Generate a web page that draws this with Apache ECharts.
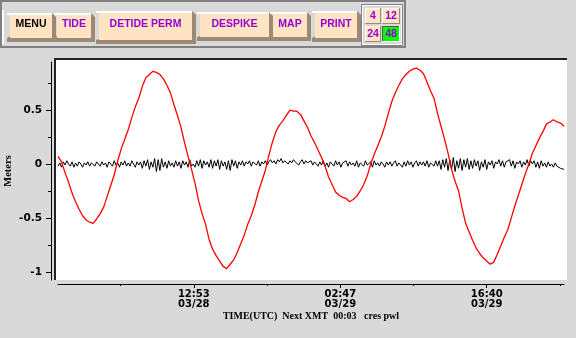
<!DOCTYPE html>
<html><head><meta charset="utf-8">
<script src="https://cdn.jsdelivr.net/npm/echarts@6/dist/echarts.min.js"></script>
<style>html,body{margin:0;padding:0;background:#d9d9d9;}#c{width:576px;height:338px;}</style>
</head><body><div id="c"></div>
<script>
// ---- data (minutes since 03/28 00:00 UTC) ----
const xStartMinute = 0;
const xEndMinute = 2880;
const redStepMinutes = 20;
const blackStepMinutes = 10;
// tide (red) in meters, every 20 minutes
const tideValues = [0.07,0.02,-0.08,-0.17,-0.27,-0.35,-0.42,-0.48,-0.52,-0.54,
 -0.55,-0.51,-0.46,-0.40,-0.30,-0.20,-0.10,0.03,0.14,0.23,
 0.32,0.43,0.53,0.61,0.72,0.80,0.83,0.86,0.85,0.83,
 0.79,0.73,0.66,0.55,0.45,0.34,0.20,0.07,-0.05,-0.18,
 -0.34,-0.46,-0.56,-0.70,-0.79,-0.85,-0.90,-0.95,-0.97,-0.93,
 -0.89,-0.82,-0.74,-0.66,-0.56,-0.48,-0.38,-0.26,-0.16,-0.06,
 0.08,0.20,0.30,0.36,0.40,0.45,0.50,0.49,0.49,0.46,
 0.40,0.34,0.26,0.20,0.13,0.06,-0.02,-0.12,-0.19,-0.26,
 -0.29,-0.31,-0.32,-0.35,-0.33,-0.30,-0.25,-0.19,-0.11,0.00,
 0.09,0.17,0.25,0.35,0.47,0.58,0.66,0.73,0.79,0.83,
 0.86,0.88,0.89,0.87,0.84,0.76,0.68,0.61,0.47,0.35,
 0.23,0.10,-0.05,-0.16,-0.25,-0.41,-0.55,-0.63,-0.71,-0.78,
 -0.83,-0.87,-0.90,-0.93,-0.91,-0.84,-0.76,-0.68,-0.61,-0.50,
 -0.39,-0.29,-0.19,-0.09,0.00,0.10,0.17,0.24,0.30,0.37,
 0.39,0.41,0.39,0.38,0.35];
// detided residual (black) in meters, every 10 minutes
const residualValues = [
 -0.02,0.01,-0.03,0.02,-0.01,0.03,0.00,-0.02,0.02,-0.03,0.01,-0.02,0.02,0.00,-0.03,0.01,-0.01,0.02,-0.02,0.01,0.00,-0.02,0.02,0.01,
 -0.02,0.02,-0.01,0.01,-0.03,0.02,0.00,-0.02,0.03,-0.01,0.01,-0.03,0.02,-0.01,0.03,-0.02,0.01,-0.02,0.03,0.00,-0.03,0.02,-0.01,0.02,
 -0.04,0.03,-0.02,0.04,-0.05,0.02,-0.03,0.05,-0.07,0.04,-0.06,0.05,-0.03,0.02,-0.04,0.03,-0.02,0.01,-0.03,0.03,-0.02,0.02,-0.04,0.03,
 -0.01,0.02,-0.03,0.04,-0.02,0.00,-0.03,0.03,-0.02,0.04,-0.04,0.03,-0.01,0.02,-0.03,0.04,-0.04,0.03,-0.02,0.04,-0.05,0.03,-0.02,0.02,
 -0.05,0.03,-0.06,0.04,-0.02,0.03,-0.04,0.02,-0.01,0.03,-0.02,0.02,0.00,0.03,-0.02,0.02,0.01,-0.01,0.03,-0.02,0.02,0.00,0.03,-0.01,
 0.02,0.04,0.01,0.03,0.00,0.04,0.02,0.05,0.01,0.03,0.04,0.00,0.03,0.01,0.04,0.02,0.03,-0.01,0.02,0.04,0.00,0.03,0.01,0.02,
 0.03,-0.01,0.02,0.00,-0.02,0.02,-0.01,0.03,-0.02,0.01,-0.03,0.02,0.00,-0.02,0.03,-0.01,0.02,-0.03,0.01,0.00,0.03,-0.02,0.02,-0.01,
 0.01,-0.02,0.03,-0.03,0.01,0.02,-0.02,0.03,-0.01,0.00,0.02,-0.03,0.03,-0.01,0.01,-0.02,0.02,0.00,-0.03,0.02,-0.01,0.02,-0.02,0.01,
 0.03,-0.02,0.01,0.00,-0.03,0.02,-0.02,0.03,-0.01,0.02,-0.03,0.01,0.03,-0.02,0.02,-0.01,0.02,-0.02,0.03,-0.03,0.01,0.00,-0.02,0.03,
 -0.02,0.03,-0.05,0.04,-0.03,0.05,-0.06,0.04,-0.05,0.06,-0.07,0.03,-0.04,0.05,-0.06,0.04,-0.03,0.05,-0.05,0.03,-0.04,0.04,-0.02,0.03,
 -0.06,0.02,-0.03,0.04,-0.05,0.02,-0.01,0.03,-0.04,0.02,0.00,0.04,-0.02,0.03,-0.03,0.02,0.01,0.04,-0.02,0.03,-0.04,0.02,0.00,0.03,
 -0.03,0.02,-0.01,0.04,-0.02,0.03,0.00,0.03,-0.03,0.02,-0.04,0.03,-0.02,0.01,-0.03,0.02,-0.02,0.00,-0.03,0.01,-0.02,-0.01,-0.04,-0.03,
 -0.05];
// axis ticks / labels
const majorTickMinutes = [773, 1607, 2440];
const majorTickLabels = ['12:53\n03/28', '02:47\n03/29', '16:40\n03/29'];
const minorTickMinutes = [357, 773, 1190, 1607, 2023, 2440, 2857];
const yMin = -1.076, yMax = 0.946;
const yLabelValues = [-1, -0.5, 0, 0.5];
const yMinorTickValues = [-0.75, -0.25, 0.25, 0.75];
const xAxisTitle = 'TIME(UTC)  Next XMT  00:03   cres pwl';
const yAxisTitle = 'Meters';
const toolbarButtons = [
  {label:'MENU', box:[10,15,52,38], color:'#000000'},
  {label:'TIDE', box:[57,15,91,38], color:'#9400d3'},
  {label:'DETIDE PERM', box:[99,13,192,40], color:'#9400d3'},
  {label:'DESPIKE', box:[200,14,269,37], color:'#9400d3'},
  {label:'MAP', box:[273,14,307,37], color:'#9400d3'},
  {label:'PRINT', box:[315,13,357,38], color:'#9400d3'}
];
const spanButtons = [
  {label:'4', box:[366,9,380,23], active:false},
  {label:'12', box:[383,9,399,23], active:false},
  {label:'24', box:[366,27,380,41], active:false},
  {label:'48', box:[383,27,399,41], active:true}
];

const tideData = tideValues.map((v,i)=>[xStartMinute + i*redStepMinutes, v]);
const residualData = residualValues.map((v,i)=>[xStartMinute + i*blackStepMinutes, v]);

const FACE = '#ffe4c4', SHADOW = '#9c8a77';
const graphics = [];
// toolbar
graphics.push({type:'rect', shape:{x:1,y:1,width:404,height:46}, style:{fill:'#d9d9d9', stroke:'#808080', lineWidth:2}});
graphics.push({type:'rect', shape:{x:2,y:10,width:2,height:34}, style:{fill:'#ffffff'}});
toolbarButtons.forEach(b=>{
  const [x0,y0,x1,y1] = b.box;
  graphics.push({type:'polygon', shape:{points:[[x1,y0-2],[x1+4,y0+2],[x1+4,y1+4],[x0-3,y1+4],[x0-3,y1]]}, style:{fill:SHADOW}});
  graphics.push({type:'rect', shape:{x:x0-3,y:y0-2,width:x1-x0+3,height:2}, style:{fill:'#ffffff'}});
  graphics.push({type:'rect', shape:{x:x0,y:y0,width:x1-x0,height:y1-y0}, style:{fill:FACE}});
  graphics.push({type:'text', x:(x0+x1)/2, y:24.5, style:{text:b.label, fill:b.color, font:'bold 10.5px "Liberation Sans", Arial, sans-serif', textAlign:'center', textVerticalAlign:'middle'}});
});
graphics.push({type:'rect', shape:{x:361.5,y:4.5,width:41,height:41}, style:{fill:'none', stroke:'#808080', lineWidth:1}});
graphics.push({type:'rect', shape:{x:362.5,y:5.5,width:39,height:39}, style:{fill:'none', stroke:'#ffffff', lineWidth:1}});
spanButtons.forEach(b=>{
  const [x0,y0,x1,y1] = b.box;
  graphics.push({type:'rect', shape:{x:x0-1,y:y0-1,width:x1-x0+2,height:y1-y0+2}, style:{fill: b.active ? '#ffffff' : SHADOW}});
  graphics.push({type:'rect', shape:{x:x0-1,y:y0-1,width:x1-x0+1,height:y1-y0+1}, style:{fill: b.active ? '#555555' : '#ffffff'}});
  graphics.push({type:'rect', shape:{x:x0,y:y0,width:x1-x0,height:y1-y0}, style:{fill: b.active ? '#00ff00' : FACE}});
  graphics.push({type:'text', x:(x0+x1)/2, y:(y0+y1)/2+0.5, style:{text:b.label, fill:'#9400d3', font:'bold 10.5px "Liberation Sans", Arial, sans-serif', textAlign:'center', textVerticalAlign:'middle'}});
});
// plot frame
graphics.push({type:'rect', z:-5, shape:{x:54,y:58,width:513,height:222}, style:{fill:'#ffffff'}});
graphics.push({type:'rect', z:-4, shape:{x:54,y:58,width:513,height:2}, style:{fill:'#222222'}});
graphics.push({type:'rect', z:-4, shape:{x:54,y:58,width:2,height:222}, style:{fill:'#222222'}});

const tickFont = {fontFamily:'"DejaVu Sans", sans-serif', fontWeight:'bold', color:'#000'};

const chart = echarts.init(document.getElementById('c'), null, {renderer:'canvas'});
chart.setOption({
  animation:false,
  backgroundColor:'#d9d9d9',
  graphic:{elements:graphics},
  grid:{left:58, right:12, top:62, bottom:58, containLabel:false, outerBoundsMode:'none'},
  xAxis:[
    {type:'value', min:xStartMinute, max:xEndMinute, position:'bottom', offset:4,
     axisLine:{show:true, onZero:false, lineStyle:{color:'#000', width:1}},
     axisTick:{show:true, customValues:majorTickMinutes, length:4, lineStyle:{color:'#000'}},
     axisLabel:{show:true, customValues:majorTickMinutes, margin:5, fontSize:10, lineHeight:10, ...tickFont,
       formatter:(v)=>{const i = majorTickMinutes.indexOf(v); return i>=0 ? majorTickLabels[i] : '';}},
     splitLine:{show:false},
     name:xAxisTitle, nameLocation:'middle', nameGap:27, nameMoveOverlap:false,
     nameTextStyle:{fontFamily:'"Liberation Serif", serif', fontWeight:'bold', fontSize:10, color:'#000'}},
    {type:'value', min:xStartMinute, max:xEndMinute, position:'bottom', offset:4,
     axisLine:{show:false, onZero:false}, axisTick:{show:true, customValues:minorTickMinutes, length:2, lineStyle:{color:'#000'}},
     axisLabel:{show:false}, splitLine:{show:false}}
  ],
  yAxis:[
    {type:'value', min:yMin, max:yMax, position:'left', offset:7,
     axisLine:{show:true, onZero:false, lineStyle:{color:'#000', width:1}},
     axisTick:{show:true, customValues:yLabelValues, length:5, lineStyle:{color:'#000'}},
     axisLabel:{show:true, customValues:yLabelValues, margin:9, fontSize:10.5, ...tickFont,
       formatter:(v)=>String(v)},
     splitLine:{show:false},
     name:yAxisTitle, nameLocation:'middle', nameGap:43, nameRotate:90, nameMoveOverlap:false,
     nameTextStyle:{fontFamily:'"Liberation Serif", serif', fontWeight:'bold', fontSize:10.5, color:'#000', align:'center', verticalAlign:'middle'}},
    {type:'value', min:yMin, max:yMax, position:'left', offset:7,
     axisLine:{show:false, onZero:false}, axisTick:{show:true, customValues:yMinorTickValues, length:3, lineStyle:{color:'#000'}},
     axisLabel:{show:false}, splitLine:{show:false}}
  ],
  series:[
    {type:'line', name:'residual', data:residualData, xAxisIndex:0, yAxisIndex:0, showSymbol:false, symbol:'none',
     lineStyle:{color:'#000000', width:1}, z:2},
    {type:'line', name:'tide', data:tideData, xAxisIndex:0, yAxisIndex:0, showSymbol:false, symbol:'none',
     lineStyle:{color:'#ff0000', width:1.3}, z:3}
  ]
});
</script></body></html>
